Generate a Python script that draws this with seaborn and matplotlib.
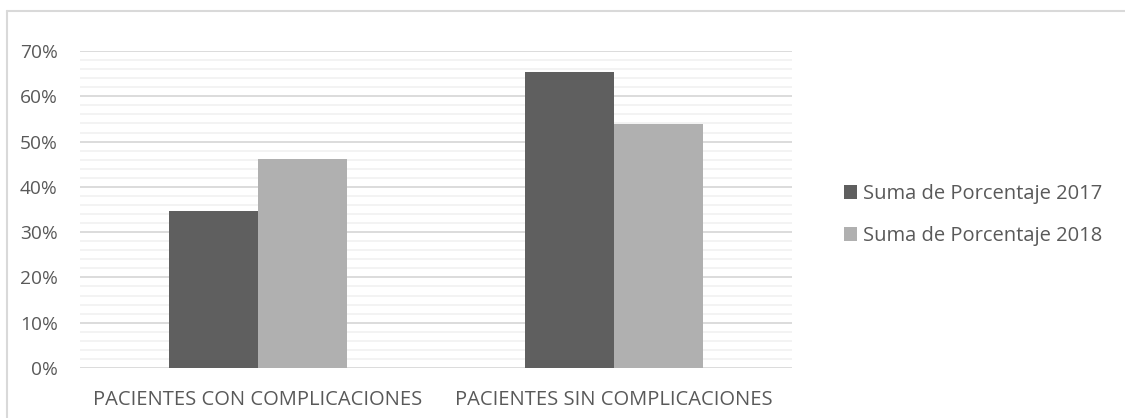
import matplotlib
matplotlib.use("Agg")
import matplotlib.pyplot as plt
from matplotlib.lines import Line2D
from matplotlib.patches import Patch
from matplotlib.ticker import MultipleLocator, PercentFormatter
import pandas as pd
import seaborn as sns

categorias = ["PACIENTES CON COMPLICACIONES", "PACIENTES SIN COMPLICACIONES"]
series = ["Suma de Porcentaje 2017", "Suma de Porcentaje 2018"]
valores_2017 = [0.346, 0.654]
valores_2018 = [0.462, 0.538]
colores = ["#5f5f5f", "#b0b0b0"]

df = pd.DataFrame({
    "categoria": categorias * 2,
    "serie": [series[0]] * 2 + [series[1]] * 2,
    "valor": valores_2017 + valores_2018,
})

sns.set_style("white")
plt.rcParams["font.family"] = ["Open Sans", "DejaVu Sans"]
texto = "#595959"

W, H = 1125, 418
fig = plt.figure(figsize=(W / 100, H / 100), dpi=100)
ax = fig.add_axes([80 / W, (H - 368) / H, (792 - 80) / W, (368 - 51) / H])

sns.barplot(data=df, x="categoria", y="valor", hue="serie", order=categorias,
            hue_order=series, palette=colores, width=0.5, saturation=1,
            edgecolor="none", legend=False, ax=ax, zorder=3)

ax.set_ylim(0, 0.7)
ax.yaxis.set_major_locator(MultipleLocator(0.1))
ax.yaxis.set_minor_locator(MultipleLocator(0.02))
ax.yaxis.set_major_formatter(PercentFormatter(1.0, decimals=0))
ax.grid(axis="y", which="major", color="#d9d9d9", linewidth=1.3, zorder=0)
ax.grid(axis="y", which="minor", color="#f2f2f2", linewidth=1.3, zorder=0)
ax.set_axisbelow(True)
for s in ax.spines.values():
    s.set_visible(False)
ax.tick_params(axis="both", which="both", length=0, colors=texto)
ax.tick_params(axis="y", labelsize=13.8, pad=16)
ax.tick_params(axis="x", labelsize=14.5, pad=16)
ax.set_xlabel("")
ax.set_ylabel("")

handles = [Patch(facecolor=c, edgecolor="none") for c in colores]
fig.legend(handles, series, loc="center left", bbox_to_anchor=(826 / W, 1 - 215 / H),
           frameon=False, fontsize=14.5, labelcolor=texto, handlelength=0.65,
           handleheight=0.65, handletextpad=0.3, labelspacing=1.1)

# borde del gráfico
fig.add_artist(Line2D([7 / W, 1], [1 - 11 / H] * 2, color="#d9d9d9", linewidth=1.5))
fig.add_artist(Line2D([7 / W] * 2, [0, 1 - 11 / H], color="#d9d9d9", linewidth=1.5))

fig.savefig("out.png", dpi=100)
